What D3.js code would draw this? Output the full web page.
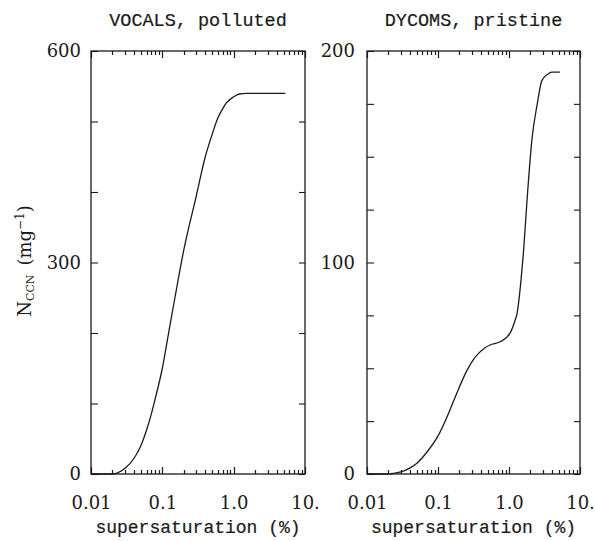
<!DOCTYPE html>
<html>
<head>
<meta charset="utf-8">
<script src="https://cdn.jsdelivr.net/npm/d3@7"></script>
<style>
body { margin: 0; background: #fff; }
</style>
</head>
<body>
<svg id="vis" width="595" height="541"></svg>
<script>
// VOCALS (polluted): supersaturation in %, N_CCN in mg^-1
var vocalsS = [0.01, 0.02, 0.03, 0.04, 0.05, 0.06, 0.07, 0.08, 0.1, 0.12, 0.15, 0.2, 0.3, 0.4, 0.5, 0.6, 0.7, 0.8, 1.0, 1.2, 1.5, 2, 3, 5.3];
var vocalsN = [0, 0, 8, 22, 40, 62, 85, 108, 150, 195, 250, 318, 395, 450, 482, 505, 518, 527, 535, 539, 540, 540, 540, 540];

// DYCOMS (pristine)
var dycomsS = [0.01, 0.019, 0.03, 0.04, 0.05, 0.07, 0.1, 0.134, 0.173, 0.256, 0.33, 0.45, 0.54, 0.75, 1.03, 1.2, 1.3, 1.48, 1.6, 1.8, 2.1, 2.5, 2.9, 3.5, 4, 5.2];
var dycomsN = [0, 0, 1, 2.8, 5, 10.4, 18, 27, 36, 49, 55, 59.5, 61, 62.5, 66.5, 72, 76, 92, 105, 130, 158, 175, 186, 189, 190, 190];

var xTicks = [0.01, 0.1, 1, 10];
var xTickLabels = ["0.01", "0.1", "1.0", "10."];

var vocalsTicks = [0, 100, 200, 300, 400, 500, 600];
var vocalsLabels = [0, 300, 600];
var dycomsTicks = [0, 25, 50, 75, 100, 125, 150, 175, 200];
var dycomsLabels = [0, 100, 200];

var titles = ["VOCALS, polluted", "DYCOMS, pristine"];

var INK = "#1a1a1a";
var NUM_FONT = "'DejaVu Serif', serif";
var TXT_FONT = "'Liberation Mono', 'DejaVu Sans Mono', monospace";

var _vis = d3.select("#vis");
var TOP = 51, BOTTOM = 474;

var panels = [
    {left: 91, right: 305, title: titles[0], s: vocalsS, n: vocalsN, yMax: 600, ticks: vocalsTicks, labels: vocalsLabels, labPad: 10},
    {left: 367, right: 580, title: titles[1], s: dycomsS, n: dycomsN, yMax: 200, ticks: dycomsTicks, labels: dycomsLabels, labPad: 12}
];

// minor log ticks 2..9 in each decade
var minorTicks = [];
[0.01, 0.1, 1].forEach(function (d) {
    for (var k = 2; k <= 9; k++) minorTicks.push(d * k);
});

function styleAxis(sel) {
    sel.select(".domain").remove();
    sel.selectAll("line").attr("stroke", INK).attr("stroke-width", 1.1);
    sel.selectAll("text").attr("fill", INK).attr("font-family", NUM_FONT).attr("font-size", 18);
}

panels.forEach(function (p) {
    var x = d3.scaleLog().domain([0.01, 10]).range([p.left, p.right]);
    var y = d3.scaleLinear().domain([0, p.yMax]).range([BOTTOM, TOP]);
    var g = _vis.append("g");

    // x ticks, inward on bottom and top (minor 4px, decades 7px)
    var xt = minorTicks.map(function (d) { return {v: d, len: 4}; })
        .concat(xTicks.map(function (d) { return {v: d, len: 7}; }));
    [[BOTTOM, -1], [TOP, 1]].forEach(function (e) {
        g.append("g").attr("class", "xticks").selectAll("line")
            .data(xt)
            .join("line")
            .attr("x1", function (d) { return Math.round(x(d.v)) + 0.5; })
            .attr("x2", function (d) { return Math.round(x(d.v)) + 0.5; })
            .attr("y1", e[0])
            .attr("y2", function (d) { return e[0] + e[1] * d.len; })
            .attr("stroke", INK)
            .attr("stroke-width", 1.2);
    });

    // x tick labels
    g.append("g").attr("transform", "translate(0," + BOTTOM + ")")
        .call(d3.axisBottom(x).tickValues(xTicks).tickSize(0).tickPadding(22)
            .tickFormat(function (d, i) { return xTickLabels[i]; }))
        .call(styleAxis);

    // y ticks
    g.append("g").attr("transform", "translate(" + p.left + ",0)")
        .call(d3.axisLeft(y).tickValues(p.ticks).tickSize(-7).tickPadding(p.labPad)
            .tickFormat(function (d) { return p.labels.indexOf(d) >= 0 ? d : ""; }))
        .call(styleAxis);
    g.append("g").attr("transform", "translate(" + p.right + ",0)")
        .call(d3.axisRight(y).tickValues(p.ticks).tickSize(-6).tickFormat(""))
        .call(styleAxis);

    // frame
    g.append("rect")
        .attr("x", p.left).attr("y", TOP)
        .attr("width", p.right - p.left).attr("height", BOTTOM - TOP)
        .attr("fill", "none").attr("stroke", INK).attr("stroke-width", 1.3);

    // curve
    var line = d3.line()
        .x(function (d, i) { return x(p.s[i]); })
        .y(function (d) { return y(d); })
        .curve(d3.curveMonotoneX);
    g.append("path")
        .datum(p.n)
        .attr("d", line)
        .attr("fill", "none").attr("stroke", INK).attr("stroke-width", 1.3);

    // title
    g.append("text")
        .attr("x", (p.left + p.right) / 2).attr("y", 26)
        .attr("text-anchor", "middle")
        .attr("font-family", TXT_FONT).attr("font-size", 18.5).attr("fill", INK)
        .attr("stroke", INK).attr("stroke-width", 0.2)
        .text(p.title);

    // x label
    g.append("text")
        .attr("x", (p.left + p.right) / 2).attr("y", 533)
        .attr("text-anchor", "middle")
        .attr("font-family", TXT_FONT).attr("font-size", 18).attr("fill", INK)
        .attr("stroke", INK).attr("stroke-width", 0.2)
        .text("supersaturation (%)");
});

// y label
var yl = _vis.append("text")
    .attr("transform", "translate(31,261) rotate(-90)")
    .attr("text-anchor", "middle")
    .attr("font-family", NUM_FONT).attr("font-size", 18).attr("fill", INK);
yl.append("tspan").text("N");
yl.append("tspan").attr("font-size", 11).attr("dy", 3).text("CCN");
yl.append("tspan").attr("dy", -3).text("\u2002(mg");
yl.append("tspan").attr("font-size", 12).attr("dy", -7).text("\u22121");
yl.append("tspan").attr("dy", 7).text(")");
</script>
</body>
</html>
